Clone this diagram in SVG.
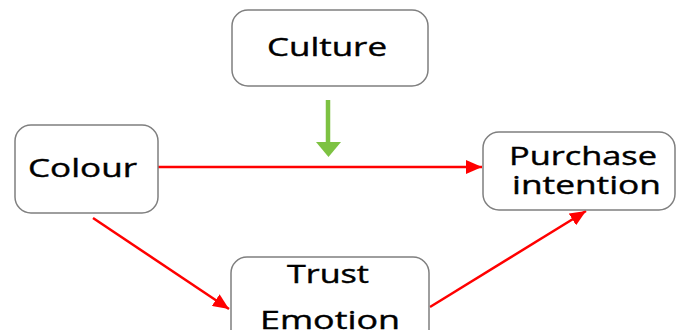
<svg xmlns="http://www.w3.org/2000/svg" width="679" height="330" viewBox="0 0 679 330">
<style>
.box{fill:#fff;stroke:#7f7f7f;stroke-width:1.5}
.t{font-family:"Open Sans","Liberation Sans",sans-serif;font-size:25px;fill:#000;stroke:#000;stroke-width:0.4}
.red{stroke:#ff0000;stroke-width:2.5;fill:none}
</style>
<defs>
<marker id="ar" viewBox="0 0 16 14" refX="16" refY="7" markerWidth="16" markerHeight="14" orient="auto" markerUnits="userSpaceOnUse">
<path d="M0,0 L16,7 L0,14 z" fill="#ff0000"/>
</marker>
</defs>
<rect width="679" height="330" fill="#fff"/>
<g id="connectors">
<line class="red" x1="158" y1="167" x2="482" y2="167" marker-end="url(#ar)"/>
<line class="red" x1="93" y1="218" x2="229" y2="309" marker-end="url(#ar)"/>
<line class="red" x1="430" y1="307" x2="586" y2="211" marker-end="url(#ar)"/>
<line x1="328" y1="100" x2="328" y2="143" stroke="#7dc242" stroke-width="4.5"/>
<path d="M316,142 L341,142 L328.5,157 z" fill="#7dc242"/>
</g>
<g id="culture">
<rect class="box" x="232" y="10" width="196" height="76" rx="16"/>
<text class="t" x="267" y="56" textLength="120" lengthAdjust="spacingAndGlyphs">Culture</text>
</g>
<g id="colour">
<rect class="box" x="15" y="125" width="143" height="88" rx="16"/>
<text class="t" x="28" y="177" textLength="109" lengthAdjust="spacingAndGlyphs">Colour</text>
</g>
<g id="purchase">
<rect class="box" x="483" y="132" width="192" height="78" rx="16"/>
<text class="t" x="509" y="165" textLength="148" lengthAdjust="spacingAndGlyphs">Purchase</text>
<text class="t" x="512" y="194" textLength="149" lengthAdjust="spacingAndGlyphs">intention</text>
</g>
<g id="trust">
<rect class="box" x="231" y="257" width="198" height="90" rx="16"/>
<text class="t" x="287" y="283" textLength="82" lengthAdjust="spacingAndGlyphs">Trust</text>
<text class="t" x="260" y="329" textLength="140" lengthAdjust="spacingAndGlyphs">Emotion</text>
</g>
</svg>
